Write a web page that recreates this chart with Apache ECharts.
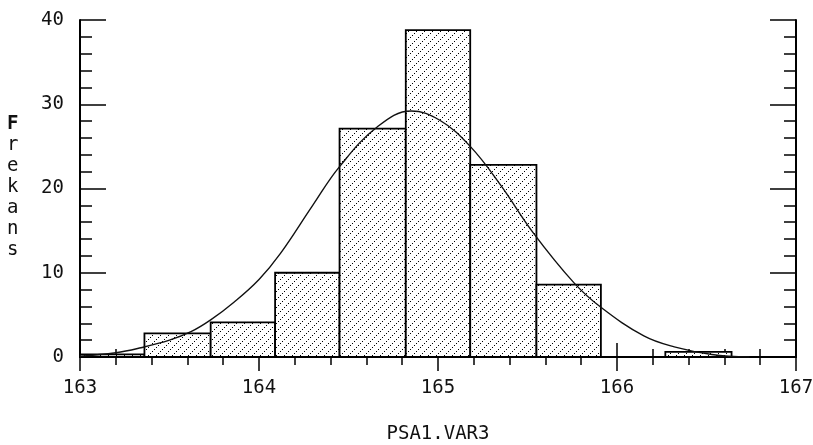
<!DOCTYPE html>
<html>
<head>
<meta charset="utf-8">
<script src="https://cdn.jsdelivr.net/npm/echarts@6/dist/echarts.min.js"></script>
<style>
  html, body { margin: 0; padding: 0; background: #fff; }
  #chart { width: 813px; height: 445px; }
</style>
</head>
<body>
<div id="chart"></div>
<script>
// histogram bins
var binStart = [163.00, 163.36, 163.73, 164.09, 164.45, 164.82, 165.18, 165.55, 166.27];
var binEnd   = [163.36, 163.73, 164.09, 164.45, 164.82, 165.18, 165.55, 165.91, 166.64];
var freq     = [0.3, 2.8, 4.1, 10, 27.1, 38.8, 22.8, 8.6, 0.6];

// fitted curve, points
var curveX = [163.0, 163.2, 163.34, 163.5, 163.62, 163.73, 163.86, 164.0, 164.12, 164.3,
              164.45, 164.66, 164.85, 165.01, 165.18, 165.35, 165.53, 165.76, 165.91, 166.15,
              166.32, 166.53, 166.74];
var curveY = [0.1, 0.5, 1.1, 2.0, 3.0, 4.4, 6.5, 9.2, 12.3, 18.0,
              22.6, 27.3, 29.2, 28.1, 25.0, 20.4, 14.8, 8.8, 5.9, 2.5,
              1.2, 0.3, 0.0];

var xTicks = [163, 164, 165, 166, 167];
var yTicks = [0, 10, 20, 30, 40];

var font = '"DejaVu Sans Mono", "Liberation Mono", monospace';

// dotted diagonal hatch on white
var tile = document.createElement('canvas');
tile.width = 8; tile.height = 8;
var tctx = tile.getContext('2d');
tctx.fillStyle = '#fff';
tctx.fillRect(0, 0, 8, 8);
tctx.fillStyle = '#000';
for (var i = 0; i < 8; i += 2) {
    tctx.fillRect(i, 7 - i, 1, 1);
}

var bins = binStart.map(function (s, i) { return [s, binEnd[i], freq[i]]; });
var curve = curveX.map(function (x, i) { return [x, curveY[i]]; });

var chart = echarts.init(document.getElementById('chart'));
chart.setOption({
    animation: false,
    backgroundColor: '#fff',
    grid: { left: 80, right: 17, top: 20, bottom: 88, outerBoundsMode: 'none', containLabel: false },
    xAxis: [
        {
            type: 'value', min: 163, max: 167, interval: 1,
            position: 'bottom',
            name: 'PSA1.VAR3', nameLocation: 'middle', nameGap: 68,
            nameTextStyle: { fontFamily: font, fontSize: 19, color: '#111' },
            axisLine: { lineStyle: { color: '#000', width: 2 } },
            axisTick: { inside: true, length: 14, lineStyle: { color: '#000', width: 1.5 } },
            minorTick: { show: true, splitNumber: 5, length: 8, lineStyle: { color: '#000', width: 1.5 } },
            axisLabel: { margin: 22, fontFamily: font, fontSize: 19, color: '#111' },
            splitLine: { show: false }
        },
        {
            type: 'value', min: 163, max: 167, interval: 1,
            position: 'top',
            axisLine: { lineStyle: { color: '#000', width: 2 } },
            axisTick: { inside: true, length: 14, lineStyle: { color: '#000', width: 1.5 } },
            minorTick: { show: true, splitNumber: 5, length: 8, lineStyle: { color: '#000', width: 1.5 } },
            axisLabel: { show: false },
            splitLine: { show: false }
        }
    ],
    yAxis: [
        {
            type: 'value', min: 0, max: 40, interval: 10,
            position: 'left',
            axisLine: { show: true, lineStyle: { color: '#000', width: 2 } },
            axisTick: { show: true, inside: true, length: 26, lineStyle: { color: '#000', width: 1.5 } },
            minorTick: { show: true, splitNumber: 5, length: 12, lineStyle: { color: '#000', width: 1.5 } },
            axisLabel: { margin: 16, fontFamily: font, fontSize: 19, color: '#111',
                formatter: function (v) { return yTicks.indexOf(v) >= 0 ? String(v) : ''; } },
            splitLine: { show: false }
        },
        {
            type: 'value', min: 0, max: 40, interval: 10,
            position: 'right',
            axisLine: { show: true, lineStyle: { color: '#000', width: 2 } },
            axisTick: { show: true, inside: true, length: 26, lineStyle: { color: '#000', width: 1.5 } },
            minorTick: { show: true, splitNumber: 5, length: 12, lineStyle: { color: '#000', width: 1.5 } },
            axisLabel: { show: false },
            splitLine: { show: false }
        }
    ],
    graphic: [
        {
            type: 'text', left: 7, top: 114,
            style: {
                text: '{b|F}\nr\ne\nk\na\nn\ns',
                font: '19px ' + font,
                lineHeight: 21,
                fill: '#111',
                rich: { b: { fontWeight: 'bold', fontFamily: font, fontSize: 19, lineHeight: 21 } }
            }
        }
    ],
    series: [
        {
            type: 'custom',
            xAxisIndex: 0, yAxisIndex: 0,
            data: bins,
            renderItem: function (params, api) {
                var p0 = api.coord([api.value(0), 0]);
                var p1 = api.coord([api.value(1), api.value(2)]);
                return {
                    type: 'rect',
                    shape: { x: p0[0], y: p1[1], width: p1[0] - p0[0], height: p0[1] - p1[1] },
                    style: {
                        fill: { image: tile, repeat: 'repeat' },
                        stroke: '#000',
                        lineWidth: 1.8
                    }
                };
            },
            z: 2
        },
        {
            type: 'line',
            xAxisIndex: 0, yAxisIndex: 0,
            data: curve,
            smooth: 0.4,
            showSymbol: false,
            lineStyle: { color: '#111', width: 1.4 },
            z: 3
        }
    ]
});
</script>
</body>
</html>
